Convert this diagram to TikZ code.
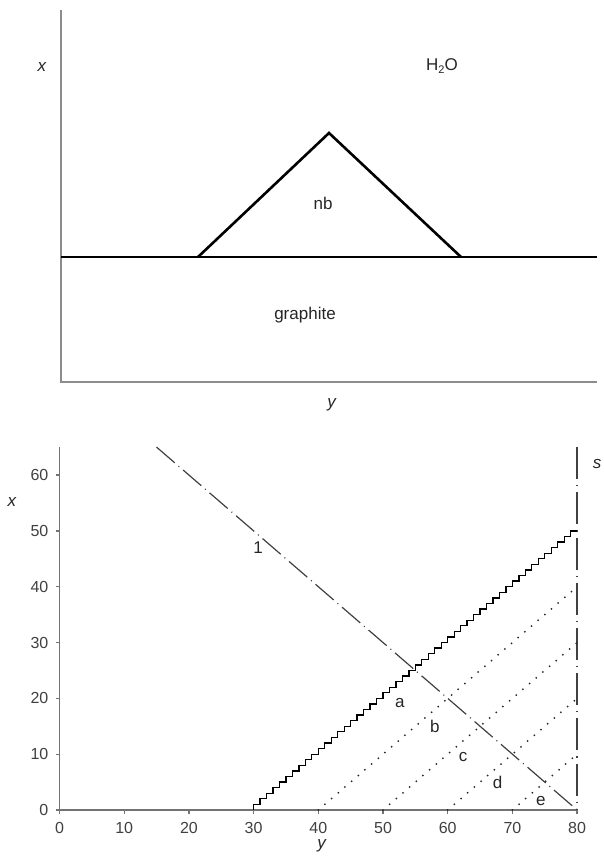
\documentclass[tikz,border=0pt]{standalone}
\usepackage{fontspec}
\setmainfont{Liberation Sans}
\begin{document}
\begin{tikzpicture}[x=1pt,y=-1pt,
  lbl/.style={font=\fontsize{17}{20}\selectfont, inner sep=0pt, text=black!85},
  ticklbl/.style={font=\fontsize{16}{19}\selectfont, inner sep=0pt, text=black!75},
  axisT/.style={draw=black!45, line width=1.2pt},
  axisB/.style={draw=black!55, line width=1.3pt},
  heavy/.style={draw=black, line width=2.6pt},
  chain/.style={draw=black!75, line width=1.2pt, dash pattern=on 24pt off 5pt on 1pt off 5pt},
  sline/.style={draw=black!75, line width=1.6pt, dash pattern=on 32pt off 6pt on 1.2pt off 6pt},
  dotline/.style={draw=black!85, line width=2pt, line cap=round, dash pattern=on 0pt off 8.8pt},
  stair/.style={draw=black, line width=1.3pt}]
\useasboundingbox (0,0) rectangle (603,861);

% ---------- top panel ----------
\coordinate (tTop) at (61,10);
\coordinate (tO) at (61,382);
\coordinate (tR) at (597,382);
\coordinate (sL) at (61,257);
\coordinate (sR) at (597,257);
\coordinate (fL) at (198,257);
\coordinate (ap) at (329,133);
\coordinate (fR) at (461,257);
\draw[axisT] (tTop) -- (tO) -- (tR);
\draw[heavy] (sL) -- (sR);
\draw[heavy, line join=miter] (fL) -- (ap) -- (fR);
\node[lbl] (tx) at (42,67) {\textit{x}};
\node[lbl] (h2o) at (442,66) {H\raisebox{-0.35ex}{\fontsize{11}{12}\selectfont 2}O};
\node[lbl] (nb) at (323,203) {nb};
\node[lbl] (gr) at (305,315) {graphite};
\node[lbl] (ty) at (332,405) {\textit{y}};

% ---------- bottom panel ----------
\begin{scope}[shift={(59.5pt,-810pt)}, x=6.47pt, y=5.583pt]
  \coordinate (O) at (0,0);
  \coordinate (Ytop) at (0,65);
  \coordinate (Xend) at (80,0);
  \draw[axisB] (Ytop) -- (O) -- (Xend);
  \foreach \v in {0,10,...,60} {
    \draw[axisB] (0,\v) -- ++(-4pt,0);
    \node[ticklbl, anchor=east] (yl\v) at ([xshift=-11pt]0,\v) {\v};
  }
  \foreach \v in {0,10,...,80} {
    \draw[axisB] (\v,0) -- ++(0,-4pt);
  }
  \foreach \v in {0,10,...,80} {
    \node[ticklbl] (xl\v) at ([yshift=-18pt]\v,0) {\v};
  }
  % chain line 1
  \coordinate (c1a) at (15,65);
  \coordinate (c1b) at (80,0);
  \draw[chain] (c1a) -- (c1b);
  % s line
  \coordinate (sa) at (80,0);
  \coordinate (sb) at (80,65);
  \draw[sline] (sb) -- (sa);
  % staircase
  \draw[stair] (30,0) \foreach \i in {1,...,50} { -- ++(0,1) -- ++(1,0) };
  % dotted lines
  \foreach \s in {40,50,60,70} {
    \draw[dotline] (\s,0) -- (80,80-\s);
  }
  % labels
  \node[lbl] (l1) at (30.7,47) {1};
  \node[lbl] (la) at (52.6,19.2) {a};
  \node[lbl] (lb) at (58,14.9) {b};
  \node[lbl] (lc) at (62.4,9.5) {c};
  \node[lbl] (ld) at (67.7,5) {d};
  \node[lbl] (le) at (74.4,1.6) {e};
  \node[lbl] (ls) at (83.1,61.9) {\textit{s}};
\end{scope}
\node[lbl] (bx) at (12,502) {\textit{x}};
\node[lbl] (by) at (322,846) {\textit{y}};
\end{tikzpicture}
\end{document}
